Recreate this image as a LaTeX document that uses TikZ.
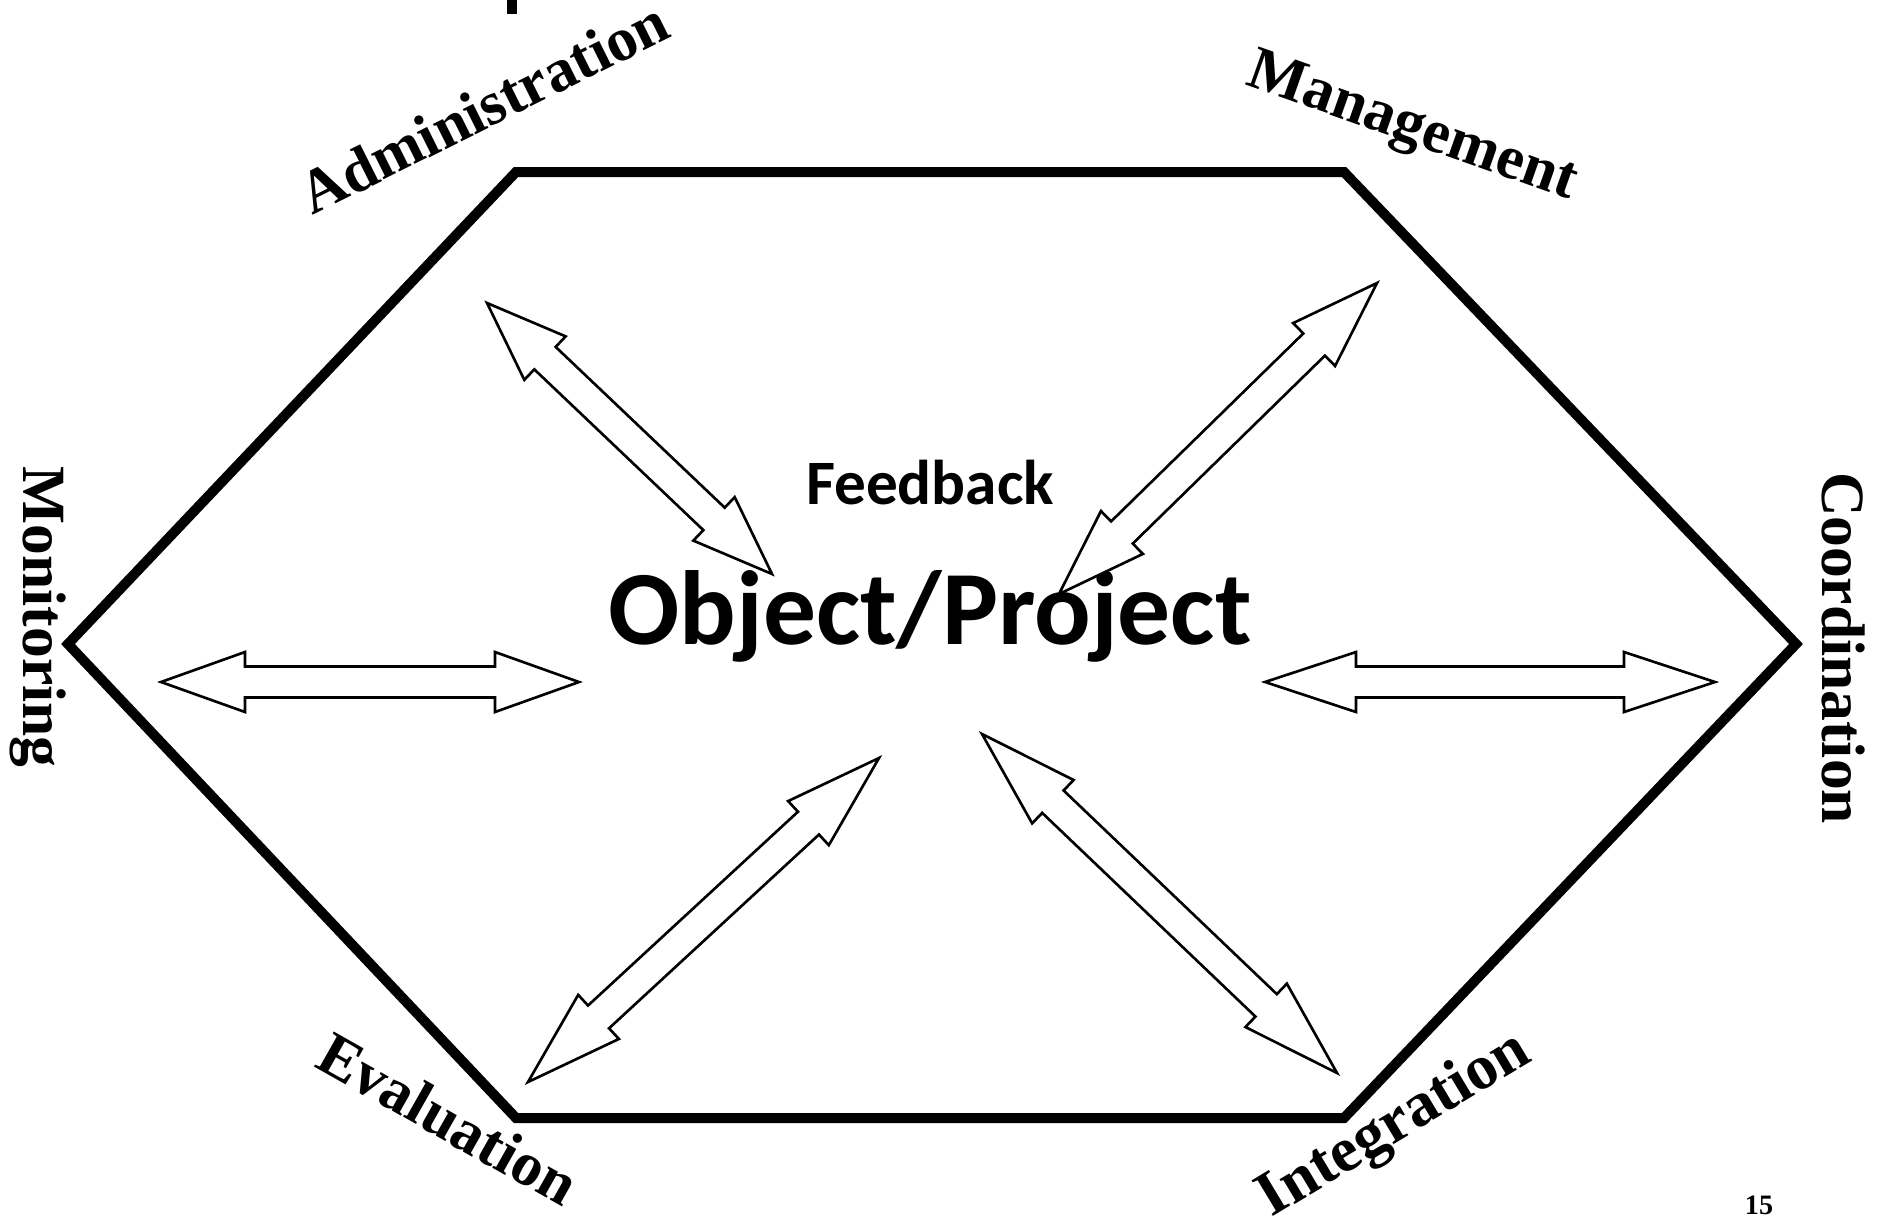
\documentclass[tikz,border=0pt]{standalone}
\usepackage{fontspec}
\setmainfont{Liberation Serif}
\newfontfamily\calibri{Carlito}
\usetikzlibrary{calc}

% half widths of the block arrows
\newcommand{\headw}{3mm}
\newcommand{\shaftw}{1.55mm}
% #1, #2 tips, #3 head length
\newcommand{\blockarrow}[3]{%
	\draw [blockarrow] (#1)
		-- ($(#1)!#3!(#2)!\headw!90:(#2)$) -- ($(#1)!#3!(#2)!\shaftw!90:(#2)$)
		-- ($(#2)!#3!(#1)!\shaftw!-90:(#1)$) -- ($(#2)!#3!(#1)!\headw!-90:(#1)$)
		-- (#2)
		-- ($(#2)!#3!(#1)!\headw!90:(#1)$) -- ($(#2)!#3!(#1)!\shaftw!90:(#1)$)
		-- ($(#1)!#3!(#2)!\shaftw!-90:(#2)$) -- ($(#1)!#3!(#2)!\headw!-90:(#2)$)
		-- cycle;}

\begin{document}
\begin{tikzpicture}[x=1mm, y=1mm]
		\tikzstyle{every node}+=[inner sep=0pt]
		\tikzstyle{side}=[font=\bfseries\fontsize{17.5}{20}\selectfont, anchor=base]
		\tikzstyle{vside}=[font=\bfseries\fontsize{17.5}{20}\selectfont, anchor=base, rotate=-90]
		\tikzstyle{blockarrow}=[black, line width=0.75pt, fill=white]
		\useasboundingbox (0,0) rectangle (188.1,-121.8);
		\fill [black] (50.7,0) rectangle (51.7,-1.35);
		\draw [black, line width=1mm] (51.6,-17.2) -- (134.4,-17.2) -- (179.6,-64.4) -- (134.4,-111.8) -- (51.6,-111.8) -- (6.8,-64.4) -- cycle;
		\node [side, rotate=26.5] (admin) at (49.3,-12.6) {Administration};
		\node [side, rotate=-19.5] (mgmt) at (140.7,-14.2) {Management};
		\node [side, rotate=-29.5] (eval) at (43.8,-113.7) {Evaluation};
		\node [side, rotate=31, font=\bfseries\fontsize{18}{20}\selectfont] (integ) at (140.3,-113.9) {Integration};
		\node [vside] (monit) at (2.3,-61.7) {Monitoring};
		\node [vside] (coord) at (182.2,-64.8) {Coordination};
		\node [anchor=base, font=\calibri\bfseries\fontsize{18}{20}\selectfont] (feed) at (93.0,-50.4) {Feedback};
		\node [anchor=base, font=\calibri\bfseries\fontsize{30}{34}\selectfont] (proj) at (93.0,-64.4) {Object/Project};
		\node [anchor=base, font=\bfseries\fontsize{8}{9}\selectfont] (page) at (175.9,-121.4) {15};
		\coordinate (a1) at (48.7,-30.3);
		\coordinate (b1) at (77.2,-57.4);
		\coordinate (a2) at (137.7,-28.3);
		\coordinate (b2) at (105.9,-59.4);
		\coordinate (a3) at (16.1,-68.2);
		\coordinate (b3) at (57.9,-68.2);
		\coordinate (a4) at (126.5,-68.2);
		\coordinate (b4) at (171.5,-68.2);
		\coordinate (a5) at (87.9,-75.8);
		\coordinate (b5) at (52.8,-108.2);
		\coordinate (a6) at (98.2,-73.4);
		\coordinate (b6) at (133.7,-107.3);
		\blockarrow{a1}{b1}{8.0mm}
		\blockarrow{a2}{b2}{8.8mm}
		\blockarrow{a3}{b3}{8.4mm}
		\blockarrow{a4}{b4}{9.1mm}
		\blockarrow{a5}{b5}{9.6mm}
		\blockarrow{a6}{b6}{9.8mm}
	\end{tikzpicture}
\end{document}
